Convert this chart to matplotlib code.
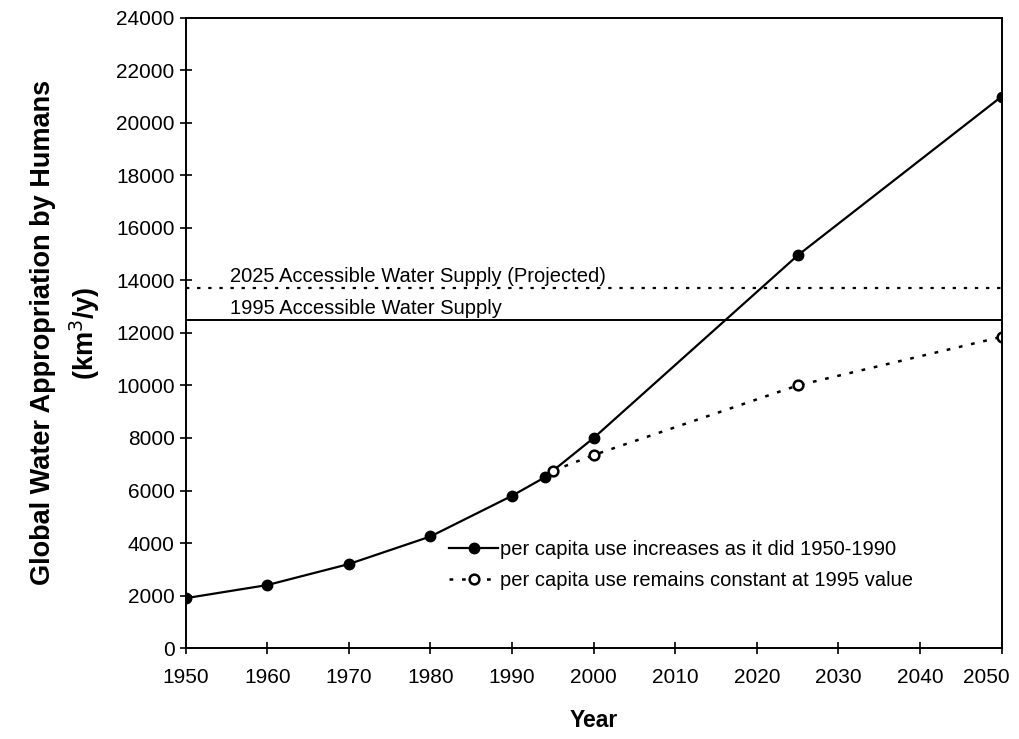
import matplotlib.pyplot as plt
import matplotlib.transforms as mtransforms

plt.rcParams['font.family'] = ['Liberation Sans', 'DejaVu Sans']

# water appropriation scenarios (km^3/y)
years_increase = [1950, 1960, 1970, 1980, 1990, 1994, 2000, 2025, 2050]
use_increase = [1900, 2400, 3200, 4250, 5800, 6500, 8000, 14950, 21000]

years_const = [1995, 2000, 2025, 2050]
use_const = [6750, 7350, 10000, 11850]

supply_1995 = 12500
supply_2025 = 13700

fig = plt.figure(figsize=(10.2, 7.39), dpi=100)
ax = fig.add_axes([0.182, 0.123, 0.8, 0.853])

dots = (0, (1.5, 3.5))
ax.plot(years_increase, use_increase, '-', color='black', lw=1.6,
        marker='o', ms=7.5, mfc='black', mec='black',
        label='per capita use increases as it did 1950-1990')
ax.plot(years_const, use_const, linestyle=dots, color='black', lw=1.8,
        marker='o', ms=7, mfc='white', mec='black', mew=1.8,
        label='per capita use remains constant at 1995 value')

ax.axhline(supply_1995, color='black', lw=1.4)
ax.axhline(supply_2025, color='black', lw=1.6, linestyle=dots)
ax.text(1955.4, supply_1995 + 230, '1995 Accessible Water Supply', fontsize=14.5)
ax.text(1955.4, supply_2025 + 230, '2025 Accessible Water Supply (Projected)', fontsize=14.5)

ax.set_xlim(1950, 2050)
ax.set_ylim(0, 24000)
ax.set_xticks(range(1950, 2051, 10))
ax.set_yticks(range(0, 24001, 2000))
ax.tick_params(direction='inout', length=9, width=1.2, labelsize=15)
ax.tick_params(axis='x', pad=10)

# keep the last year label inside the figure
last = ax.get_xticklabels()[-1]
last.set_transform(last.get_transform() +
                   mtransforms.ScaledTranslation(-0.15, 0, fig.dpi_scale_trans))

for s in ax.spines.values():
    s.set_linewidth(1.4)

ax.set_xlabel('Year', fontsize=16.5, fontweight='bold', labelpad=16)
ax.set_ylabel('Global Water Appropriation by Humans\n(km$^3$/y)', fontsize=19.5,
              fontweight='bold', labelpad=10, linespacing=1.45)

ax.legend(loc='upper left', bbox_to_anchor=(0.311, 0.188), frameon=False,
          fontsize=14.5, handlelength=2.4, handletextpad=0.1, labelspacing=0.6,
          borderpad=0)

fig.savefig('out.png', dpi=100)
